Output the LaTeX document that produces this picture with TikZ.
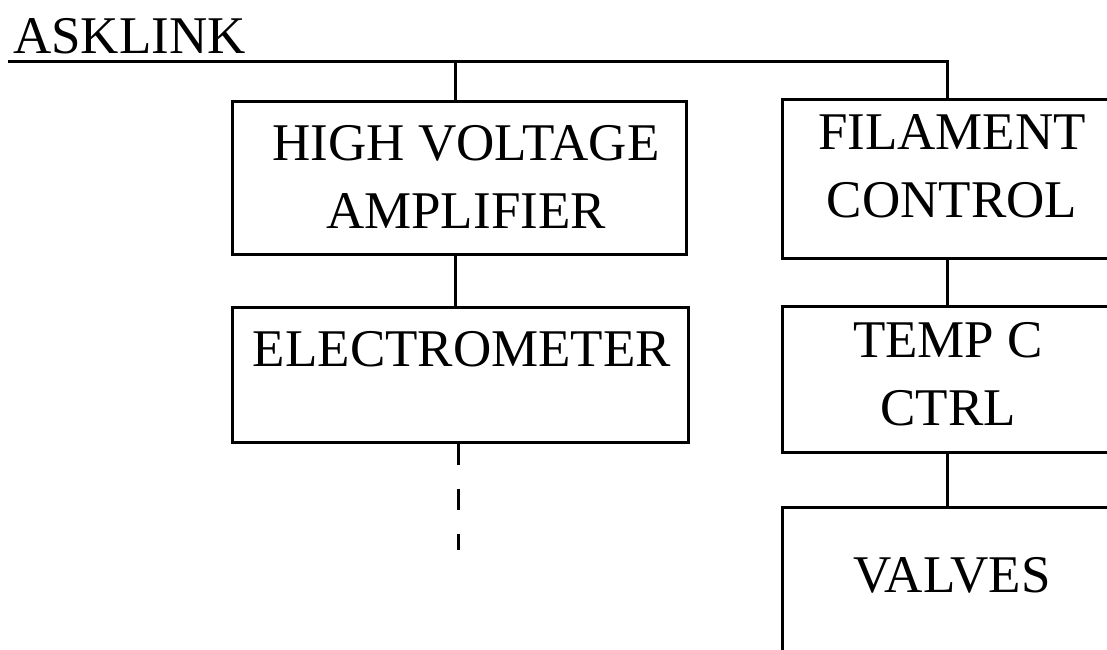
\documentclass[tikz,border=0pt]{standalone}
\usepackage{fontspec}
\setmainfont{Liberation Serif}
\usetikzlibrary{positioning}
\tikzset{
  unit/.style={draw, line width=3pt, inner sep=0pt},
  lbl/.style={inner sep=0pt, align=center, font=\fontsize{53}{68}\selectfont},
  wire/.style={line width=3pt},
}

\begin{document}
\begin{tikzpicture}[x=1pt,y=-1pt]
    \clip (0,0) rectangle (1107,649);
    % Bus title
    \node[lbl, anchor=base west] (ask) at (13,53) {ASKLINK};
    % Left column
    \node[unit, minimum width=454pt, minimum height=153pt] (hva) at (459,177.5) {};
    \node[lbl] (hvatxt) at (466,176.5) {HIGH VOLTAGE\\AMPLIFIER};
    \node[unit, minimum width=456pt, minimum height=135pt] (elec) at (460,374.5) {};
    \node[lbl] (electxt) at (462,349.5) {ELECTROMETER};
    % Right column
    \node[unit, minimum width=340pt, minimum height=159pt] (fil) at (952,178.5) {};
    \node[lbl] (filtxt) at (952,166.5) {FILAMENT\\CONTROL};
    \node[unit, minimum width=340pt, minimum height=146pt] (temp) at (952,379) {};
    \node[lbl] (temptxt) at (948,374.5) {TEMP C\\CTRL};
    \node[unit, minimum width=340pt, minimum height=160pt] (valv) at (952,587) {};
    \node[lbl] (valvtxt) at (952,575) {VALVES};
    % Taps on the bus
    \coordinate (busL) at (8,61);
    \coordinate (hvtap) at (455,61);
    \coordinate (rtap) at (947,61);
    \coordinate (tail) at (458,550);
    \draw[wire] (busL) -- (rtap) -- (rtap |- fil.north);
    \draw[wire] (hvtap) -- (hvtap |- hva.north);
    \draw[wire] (hvtap |- hva.south) -- (hvtap |- elec.north);
    \draw[wire] (rtap |- fil.south) -- (rtap |- temp.north);
    \draw[wire] (rtap |- temp.south) -- (rtap |- valv.north);
    % Continues below
    \draw[wire, dash pattern=on 21pt off 24pt] (tail |- elec.south) -- (tail);
\end{tikzpicture}
\end{document}
